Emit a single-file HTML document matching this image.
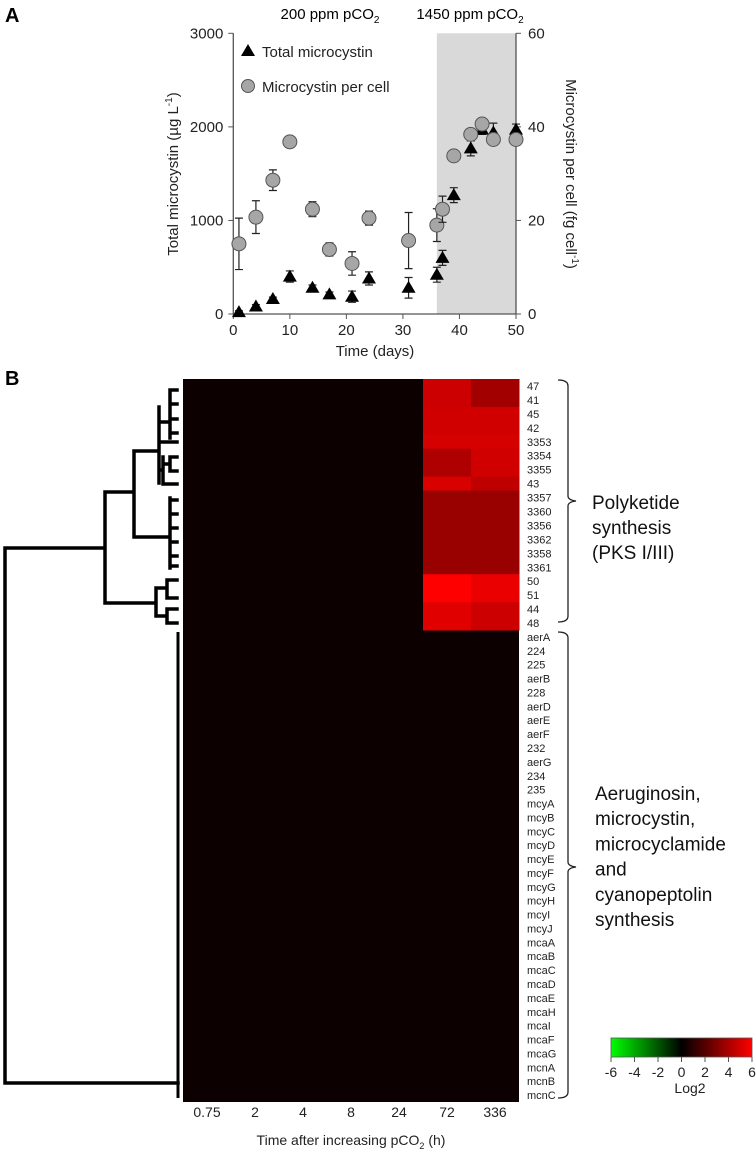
<!DOCTYPE html>
<html><head><meta charset="utf-8"><style>
body{margin:0;background:#fff;width:756px;height:1156px;overflow:hidden;font-family:"Liberation Sans",sans-serif}
svg{position:absolute;left:0;top:0}
</style></head><body>
<svg id="fig" width="756" height="1156" xmlns="http://www.w3.org/2000/svg"></svg>
<script>
const days=[1,4,7,10,14,17,21,24,31,36,37,39,42,44,46,50];
const totalMc=[20,80,160,400,280,210,185,380,280,420,600,1270,1770,1970,1940,1970];
const totalErr=[15,20,20,60,30,25,60,70,110,80,80,80,80,50,100,60];
const perCell=[15.0,20.7,28.6,36.8,22.4,13.8,10.8,20.5,15.7,19.0,22.4,33.8,38.4,40.6,37.3,37.3];
const perCellErr=[5.5,3.5,2.2,1.2,1.6,1.4,2.5,1.5,6,3.5,2.8,0.5,1,1,0.6,1];
const xTicks=[0,10,20,30,40,50];
const yLeftTicks=[0,1000,2000,3000];
const yRightTicks=[0,20,40,60];
const genes=["47","41","45","42","3353","3354","3355","43","3357","3360","3356","3362","3358","3361","50","51","44","48","aerA","224","225","aerB","228","aerD","aerE","aerF","232","aerG","234","235","mcyA","mcyB","mcyC","mcyD","mcyE","mcyF","mcyG","mcyH","mcyI","mcyJ","mcaA","mcaB","mcaC","mcaD","mcaE","mcaH","mcaI","mcaF","mcaG","mcnA","mcnB","mcnC"];
const timePoints=["0.75","2","4","8","24","72","336"];
const log72=[4.8,4.8,4.9,4.9,5.0,4.1,4.1,5.1,3.6,3.6,3.6,3.6,3.6,3.6,6.0,6.0,5.3,5.3];
const log336=[3.8,3.8,4.9,4.9,5.0,4.9,4.9,4.5,3.6,3.6,3.6,3.6,3.6,3.6,5.5,5.5,4.8,4.8];
const cbTicks=[-6,-4,-2,0,2,4,6];

const NS="http://www.w3.org/2000/svg";
const svg=document.getElementById('fig');
function mk(tag,attrs,parent,text){const e=document.createElementNS(NS,tag);for(const k in attrs)e.setAttribute(k,attrs[k]);if(text!==undefined)e.textContent=text;(parent||svg).appendChild(e);return e;}

// ---------- Panel A ----------
const X0=233.3,X1=516,YT=33.3,YB=314;
const xs=d=>X0+d/50*(X1-X0);
const yl=v=>YB-v/3000*(YB-YT);
const yr=v=>YB-v/60*(YB-YT);
let t;
t=mk('text',{x:5,y:22,'font-size':20,'font-weight':'bold'},svg,'A');

let sh=mk('rect',{x:xs(36),y:YT,width:xs(50)-xs(36),height:YB-YT,fill:'#d9d9d9'});

t=mk('text',{x:330,y:19,'font-size':15,'text-anchor':'middle'},svg);

t.innerHTML='200 ppm pCO<tspan font-size="10" dy="4">2</tspan>';
t=mk('text',{x:470,y:19,'font-size':15,'text-anchor':'middle'},svg);

t.innerHTML='1450 ppm pCO<tspan font-size="10" dy="4">2</tspan>';
let ax=mk('path',{d:`M${X0},${YT}V${YB}H${X1}V${YT}`,stroke:'#555',fill:'none','stroke-width':1.3});

xTicks.forEach(v=>{mk('line',{x1:xs(v),x2:xs(v),y1:YB,y2:YB+5,stroke:'#555'});
 t=mk('text',{x:xs(v),y:YB+21,'font-size':15,'text-anchor':'middle',fill:'#222'},svg,v);
 });
yLeftTicks.forEach(v=>{mk('line',{x1:X0-5,x2:X0,y1:yl(v),y2:yl(v),stroke:'#555'});
 t=mk('text',{x:X0-10,y:yl(v)+5,'font-size':15,'text-anchor':'end',fill:'#222'},svg,v);
 });
yRightTicks.forEach(v=>{mk('line',{x1:X1,x2:X1+5,y1:yr(v),y2:yr(v),stroke:'#555'});
 t=mk('text',{x:X1+12,y:yr(v)+5,'font-size':15,fill:'#222'},svg,v);
 });
t=mk('text',{x:375,y:356,'font-size':15,'text-anchor':'middle',fill:'#222'},svg,'Time (days)');

t=mk('text',{transform:'translate(178,174) rotate(-90)','font-size':15,'text-anchor':'middle',fill:'#222'},svg);
t.innerHTML='Total microcystin (µg L<tspan font-size="10" dy="-6">-1</tspan><tspan dy="6">)</tspan>';

t=mk('text',{transform:'translate(566,174) rotate(90)','font-size':15,'text-anchor':'middle',fill:'#222'},svg);
t.innerHTML='Microcystin per cell (fg cell<tspan font-size="10" dy="-6">-1</tspan><tspan dy="6">)</tspan>';

function errbar(x,y1,y2){mk('path',{d:`M${x},${y1}V${y2}M${x-4},${y1}H${x+4}M${x-4},${y2}H${x+4}`,stroke:'#222','stroke-width':1.2,fill:'none'});}
function tri(x,y,name){const p=mk('path',{d:`M${x},${y-7}L${x+7},${y+5}L${x-7},${y+5}Z`,fill:'#000'});
 }
days.forEach((d,i)=>{errbar(xs(d),yl(totalMc[i]+totalErr[i]),yl(Math.max(0,totalMc[i]-totalErr[i])));
 tri(xs(d),yl(totalMc[i]),'total-microcystin-point');});
days.forEach((d,i)=>{errbar(xs(d),yr(perCell[i]+perCellErr[i]),yr(perCell[i]-perCellErr[i]));
 const c=mk('circle',{cx:xs(d),cy:yr(perCell[i]),r:7,fill:'#a6a6a6',stroke:'#555','stroke-width':1});
 });
tri(248,51,'legend-triangle');
t=mk('text',{x:262,y:57,'font-size':15,fill:'#222'},svg,'Total microcystin');

let lc=mk('circle',{cx:248,cy:86,r:6.5,fill:'#a6a6a6',stroke:'#555'});

t=mk('text',{x:262,y:92,'font-size':15,fill:'#222'},svg,'Microcystin per cell');


// ---------- Panel B ----------
t=mk('text',{x:5,y:385,'font-size':20,'font-weight':'bold'},svg,'B');

const HX0=183,HX1=519,HT=379,HM=630,HB=1102;
const colW=(HX1-HX0)/timePoints.length;
const nTop=log72.length,nBot=genes.length-nTop;
const rowTop=i=>i<nTop?HT+i*(HM-HT)/nTop:HM+(i-nTop)*(HB-HM)/nBot;
const rowH=i=>i<nTop?(HM-HT)/nTop:(HB-HM)/nBot;
function col(v){if(v>=0){const r=Math.max(12,Math.round(v/6*255));return `rgb(${r},0,0)`;}const g=Math.round(-v/6*255);return `rgb(0,${g},0)`;}
let bg=mk('rect',{x:HX0,y:HT,width:HX1-HX0,height:HB-HT,fill:'#0c0000'});

genes.forEach((g,i)=>{
 for(let c=0;c<timePoints.length;c++){
  let v=0; if(i<nTop){if(c===5)v=log72[i]; if(c===6)v=log336[i];}
  if(v!==0){const r=mk('rect',{x:HX0+c*colW,y:rowTop(i),width:colW+0.5,height:rowH(i)+0.5,fill:col(v)});
   }
 }
 const tt=mk('text',{x:527,y:rowTop(i)+rowH(i)/2+4,'font-size':11,fill:'#222'},svg,g);
 
});
timePoints.forEach((p,c)=>{const tt=mk('text',{x:HX0+(c+0.5)*colW,y:1117,'font-size':14,'text-anchor':'middle',fill:'#222'},svg,p);
 });
t=mk('text',{x:351,y:1145,'font-size':14,'text-anchor':'middle',fill:'#222'},svg);
t.innerHTML='Time after increasing pCO<tspan font-size="9" dy="4">2</tspan><tspan dy="-4"> (h)</tspan>';


// dendrogram
const dpath="M5,548H105 M105,492V603 M105,492H134 M134,451V537 M134,451H159 M159,407V483 M159,422H170 M170,390V438 M170,390H177 M170,404H177 M170,419H177 M170,433H177 M159,442H177 M159,470H163 M163,457V484 M163,484H177 M163,464H170 M170,457V471 M170,457H177 M170,471H177 M105,603H156 M156,588V616 M134,537H170 M170,498V568 M170,500H177 M170,514H177 M170,528H177 M170,542H177 M170,556H177 M170,566H177 M156,588H167 M167,580V598 M167,580H177 M167,598H177 M156,616H167 M167,609V623 M167,609H177 M167,623H177 M5,548V1083H178";
let dp=mk('path',{d:dpath,stroke:'#000','stroke-width':3.5,fill:'none','stroke-linecap':'square'});

let dl=mk('line',{x1:178,x2:178,y1:632,y2:1098,stroke:'#000','stroke-width':3});


// brackets
let b1=mk('path',{d:'M558,380 Q568,380 568,386 V496 Q568,500 576,501 Q568,502 568,506 V616 Q568,622 558,622',stroke:'#222',fill:'none','stroke-width':1.3});

let b2=mk('path',{d:'M558,632 Q568,632 568,638 V862 Q568,866 576,867 Q568,868 568,872 V1092 Q568,1098 558,1098',stroke:'#222',fill:'none','stroke-width':1.3});

["Polyketide","synthesis","(PKS I/III)"].forEach((s,i)=>{const tt=mk('text',{x:592,y:509+i*25,'font-size':19,fill:'#111'},svg,s);
 });
["Aeruginosin,","microcystin,","microcyclamide","and","cyanopeptolin","synthesis"].forEach((s,i)=>{const tt=mk('text',{x:595,y:800+i*25.2,'font-size':19,fill:'#111'},svg,s);
 });

// colorbar
const defs=mk('defs',{});
const lg=mk('linearGradient',{id:'cbg',x1:0,x2:1,y1:0,y2:0},defs);
mk('stop',{offset:'0','stop-color':'#00ff00'},lg);mk('stop',{offset:'0.5','stop-color':'#000'},lg);mk('stop',{offset:'1','stop-color':'#ff0000'},lg);
const CB0=611,CB1=752;
let cb=mk('rect',{x:CB0,y:1038,width:CB1-CB0,height:19,fill:'url(#cbg)',stroke:'#555','stroke-width':0.8});

cbTicks.forEach(v=>{const x=CB0+(v+6)/12*(CB1-CB0);mk('line',{x1:x,x2:x,y1:1057,y2:1062,stroke:'#555'});
 const tt=mk('text',{x:x,y:1077,'font-size':14,'text-anchor':'middle',fill:'#222'},svg,v);
 });
t=mk('text',{x:690,y:1093,'font-size':14,'text-anchor':'middle',fill:'#222'},svg,'Log2');

</script>
</body></html>
